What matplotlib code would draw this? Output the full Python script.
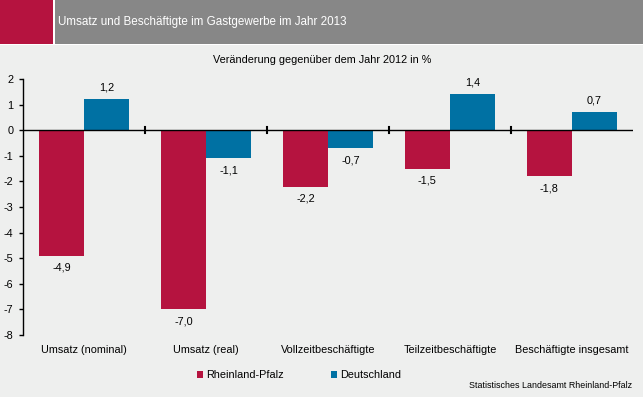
import numpy as np
import matplotlib.pyplot as plt
from matplotlib.patches import Rectangle

plt.rcParams['font.family'] = ['Liberation Sans', 'DejaVu Sans']

categories = ["Umsatz (nominal)", "Umsatz (real)", "Vollzeitbeschäftigte",
              "Teilzeitbeschäftigte", "Beschäftigte insgesamt"]
rheinland_pfalz = [-4.9, -7.0, -2.2, -1.5, -1.8]
deutschland = [1.2, -1.1, -0.7, 1.4, 0.7]
series_names = ["Rheinland-Pfalz", "Deutschland"]

red = "#B5133F"
blue = "#0071A3"
bg = "#EEEFEE"

W, H = 643, 397
fig = plt.figure(figsize=(W / 100, H / 100), dpi=100, facecolor=bg)

# header band
fig.patches.append(Rectangle((0, 1 - 45 / H), 1, 45 / H, transform=fig.transFigure,
                             facecolor="white", edgecolor="none"))
fig.patches.append(Rectangle((0, 1 - 44 / H), 53 / W, 44 / H, transform=fig.transFigure,
                             facecolor=red, edgecolor="none"))
fig.patches.append(Rectangle((55 / W, 1 - 44 / H), 1 - 55 / W, 44 / H, transform=fig.transFigure,
                             facecolor="#878787", edgecolor="none"))
fig.text(58 / W, 1 - 22 / H, "Umsatz und Beschäftigte im Gastgewerbe im Jahr 2013",
         color="white", fontsize=8.4, va="center", ha="left")

ax = fig.add_axes([23 / W, 1 - 335 / H, (633 - 23) / W, (335 - 79) / H])
ax.set_facecolor(bg)

x = np.arange(len(categories))
bw = 0.37
ax.bar(x - bw / 2, rheinland_pfalz, bw, color=red, label=series_names[0])
ax.bar(x + bw / 2, deutschland, bw, color=blue, label=series_names[1])

for xi, v in zip(x - bw / 2, rheinland_pfalz):
    ax.annotate(f"{v:.1f}".replace(".", ","), (xi, v), xytext=(0, -5 if v < 0 else 5),
                textcoords="offset points", ha="center", va="top" if v < 0 else "bottom",
                fontsize=7.8)
for xi, v in zip(x + bw / 2, deutschland):
    ax.annotate(f"{v:.1f}".replace(".", ","), (xi, v), xytext=(0, -5 if v < 0 else 5),
                textcoords="offset points", ha="center", va="top" if v < 0 else "bottom",
                fontsize=7.8)

ax.set_xlim(-0.5, len(categories) - 0.5)
ax.set_ylim(-8, 2)
ax.set_yticks(range(-8, 3))
ax.set_yticklabels([str(t) for t in range(-8, 3)])
ax.tick_params(axis="y", direction="out", length=3, width=1, labelsize=7.8, pad=4)

ax.axhline(0, color="black", lw=1)
for b in np.arange(0.5, len(categories) - 0.5, 1):
    ax.plot([b, b], [-0.12, 0.12], color="black", lw=1.5)

ax.set_xticks(x)
ax.set_xticklabels(categories)
ax.tick_params(axis="x", length=0, labelsize=7.8, pad=7)

for s in ["top", "right", "bottom"]:
    ax.spines[s].set_visible(False)
ax.spines["left"].set_linewidth(1)

fig.text(322 / W, 1 - 60 / H, "Veränderung gegenüber dem Jahr 2012 in %",
         fontsize=7.8, ha="center", va="center")

fig.legend(loc="center", bbox_to_anchor=(299 / W, 1 - 375 / H), ncol=2, frameon=False,
           fontsize=7.8, handlelength=0.6, handleheight=0.6, handletextpad=0.3,
           columnspacing=4.3)

fig.text(632 / W, 1 - 386 / H, "Statistisches Landesamt Rheinland-Pfalz",
         fontsize=6.4, ha="right", va="center")

fig.savefig("out.png", dpi=100, facecolor=bg)
